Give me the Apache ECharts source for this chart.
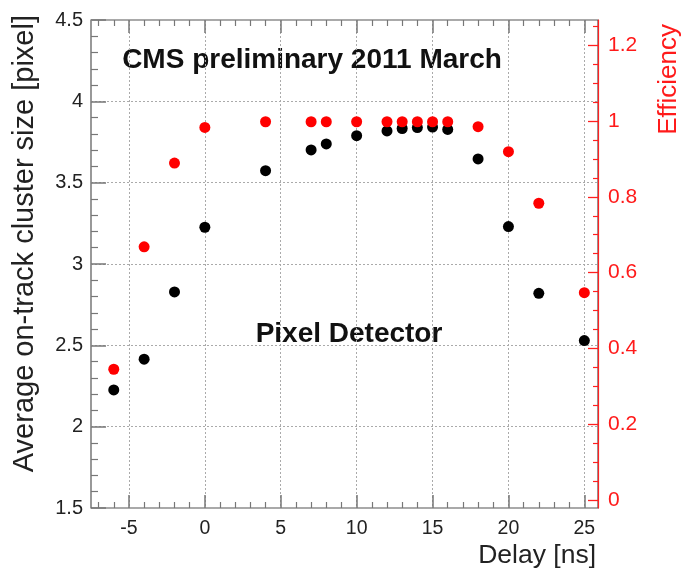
<!DOCTYPE html>
<html>
<head>
<meta charset="utf-8">
<script src="https://cdn.jsdelivr.net/npm/echarts@6/dist/echarts.min.js"></script>
<style>html,body{margin:0;padding:0;background:#fff}#c{width:687px;height:570px}</style>
</head>
<body>
<div id="c"></div>
<script>
var delays = [-6, -4, -2, 0, 4, 7, 8, 10, 12, 13, 14, 15, 16, 18, 20, 22, 25];
var clusterSize = [2.226, 2.415, 2.828, 3.226, 3.574, 3.701, 3.738, 3.789, 3.818, 3.833, 3.839, 3.842, 3.827, 3.646, 3.230, 2.820, 2.529];
var efficiency = [0.345, 0.668, 0.889, 0.983, 0.998, 0.998, 0.998, 0.998, 0.998, 0.998, 0.998, 0.998, 0.998, 0.985, 0.919, 0.783, 0.547];
var xMajorTicks = [-5, 0, 5, 10, 15, 20, 25];
var xMinorTicks = [-7, -6, -4, -3, -2, -1, 1, 2, 3, 4, 6, 7, 8, 9, 11, 12, 13, 14, 16, 17, 18, 19, 21, 22, 23, 24];
var effTickLabels = [0, 0.2, 0.4, 0.6, 0.8, 1, 1.2];
var effMinorTicks = [0.05, 0.1, 0.15, 0.25, 0.3, 0.35, 0.45, 0.5, 0.55, 0.65, 0.7, 0.75, 0.85, 0.9, 0.95, 1.05, 1.1, 1.15, 1.25];

var FONT = 'Liberation Sans, Arial, Helvetica, sans-serif';
var chart = echarts.init(document.getElementById('c'), null, {renderer: 'canvas'});

function pair(a, b) { return a.map(function (v, i) { return [v, b[i]]; }); }

var X_MIN = -7.5, X_MAX = 25.9;
var E_MIN = -0.0211, E_MAX = 1.2665;
var gridStyle = {color: '#aaa', type: [2, 2], width: 1};
var tickGray = '#777';

function xAxisDef(pos, major, showLabels) {
  return {
    type: 'value', min: X_MIN, max: X_MAX, position: pos,
    axisLine: {show: false, onZero: false},
    axisTick: {show: true, inside: true, length: major ? 13 : 6, customValues: major ? xMajorTicks : xMinorTicks,
      lineStyle: {color: tickGray, width: major ? 1.5 : 1.2}},
    axisLabel: showLabels ? {show: true, customValues: xMajorTicks, fontFamily: FONT, fontSize: 19.5, color: '#222', margin: 11} : {show: false},
    splitLine: (major && showLabels) ? {show: true, lineStyle: gridStyle} : {show: false}
  };
}

var option = {
  animation: false,
  backgroundColor: '#fff',
  grid: {left: 91, right: 89, top: 20, bottom: 62, show: true, borderColor: '#555', borderWidth: 1.2, backgroundColor: 'transparent'},
  xAxis: [
    xAxisDef('bottom', true, true),
    xAxisDef('bottom', false, false),
    xAxisDef('top', true, false),
    xAxisDef('top', false, false)
  ],
  yAxis: [
    {
      type: 'value', min: 1.5, max: 4.5, interval: 0.5, position: 'left',
      axisLine: {show: false, onZero: false},
      axisTick: {show: true, inside: true, length: 15, lineStyle: {color: tickGray, width: 1.5}},
      minorTick: {show: true, splitNumber: 5, length: 7, lineStyle: {color: tickGray, width: 1.2}},
      axisLabel: {fontFamily: FONT, fontSize: 20, color: '#222', margin: 8},
      splitLine: {show: true, lineStyle: gridStyle}
    },
    {
      type: 'value', min: E_MIN, max: E_MAX, position: 'right',
      axisLine: {show: true, onZero: false, lineStyle: {color: '#ff2020', width: 1.2}},
      axisTick: {show: true, inside: true, length: 10, customValues: effTickLabels, lineStyle: {color: '#ff2020', width: 1.3}},
      axisLabel: {show: true, customValues: effTickLabels, fontFamily: FONT, fontSize: 21, color: '#ff1a1a', margin: 10},
      splitLine: {show: false}
    },
    {
      type: 'value', min: E_MIN, max: E_MAX, position: 'right',
      axisLine: {show: false, onZero: false},
      axisTick: {show: true, inside: true, length: 5, customValues: effMinorTicks, lineStyle: {color: '#ff2020', width: 1.2}},
      axisLabel: {show: false},
      splitLine: {show: false}
    }
  ],
  graphic: [
    {type: 'text', x: 25, y: 15, rotation: Math.PI / 2, silent: true,
      style: {text: 'Average on-track cluster size [pixel]', font: '29px ' + FONT, fill: '#222', align: 'right', verticalAlign: 'middle'}},
    {type: 'text', x: 669, y: 24, rotation: Math.PI / 2, silent: true,
      style: {text: 'Efficiency', font: '26px ' + FONT, fill: '#ff1a1a', align: 'right', verticalAlign: 'middle'}},
    {type: 'text', x: 596, y: 556, silent: true,
      style: {text: 'Delay [ns]', font: '26.5px ' + FONT, fill: '#222', align: 'right', verticalAlign: 'middle'}},
    {type: 'text', x: 312, y: 60, silent: true,
      style: {text: 'CMS preliminary 2011 March', font: 'bold 28px ' + FONT, fill: '#111', align: 'center', verticalAlign: 'middle'}},
    {type: 'text', x: 349, y: 334, silent: true,
      style: {text: 'Pixel Detector', font: 'bold 28px ' + FONT, fill: '#111', align: 'center', verticalAlign: 'middle'}}
  ],
  series: [
    {type: 'scatter', name: 'Cluster size', xAxisIndex: 0, yAxisIndex: 0, data: pair(delays, clusterSize),
      symbol: 'circle', symbolSize: 11, itemStyle: {color: '#000', opacity: 1}, z: 3},
    {type: 'scatter', name: 'Efficiency', xAxisIndex: 0, yAxisIndex: 1, data: pair(delays, efficiency),
      symbol: 'circle', symbolSize: 11, itemStyle: {color: '#ff0000', opacity: 1}, z: 4}
  ]
};
chart.setOption(option);
</script>
</body>
</html>
